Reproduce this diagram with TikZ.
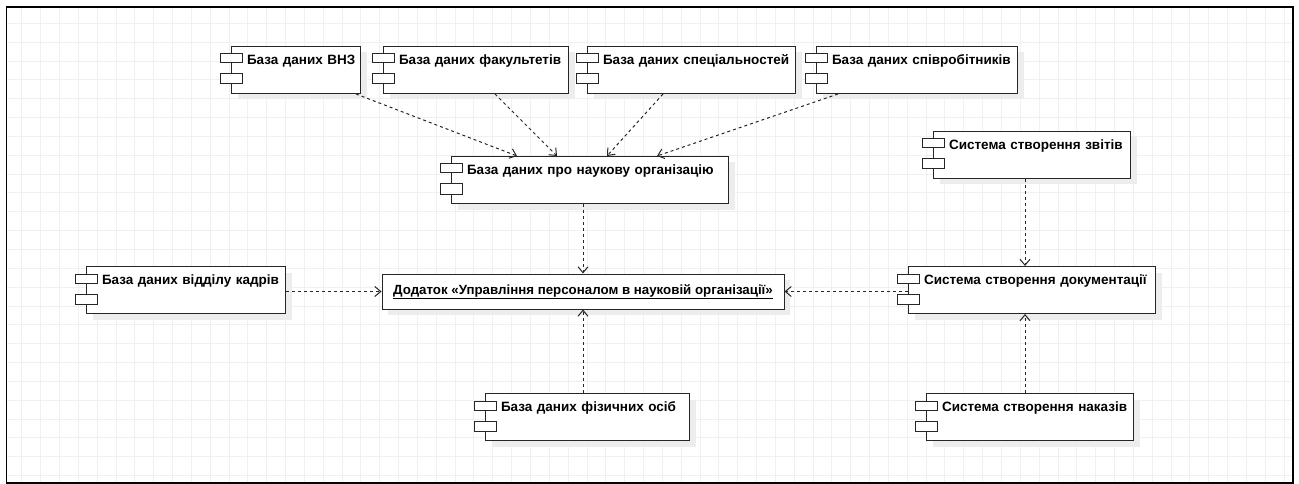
\documentclass[tikz,border=0pt]{standalone}
\usepackage{fontspec}
\setmainfont{Liberation Sans}
\usetikzlibrary{arrows.meta,shadows}

\begin{document}
\begin{tikzpicture}[x=1pt, y=1pt,
    comp/.style={draw=black!85, line width=1pt, fill=white, anchor=north west, minimum height=47, text width=#1, inner xsep=0, inner ysep=5, text height=13, text depth=24, align=left, execute at begin node={\hspace*{15.5pt}}, font=\fontsize{13.5}{15}\selectfont\bfseries, drop shadow={shadow xshift=6pt, shadow yshift=-6pt, fill=black!7, opacity=1}},
    app/.style={draw=black!85, line width=1pt, fill=white, minimum width=402, minimum height=35, inner sep=0, font=\fontsize{13.3}{15}\selectfont\bfseries, drop shadow={shadow xshift=6pt, shadow yshift=-6pt, fill=black!7, opacity=1}},
    icon/.style={draw=black!85, line width=1pt, fill=white},
    dep/.style={draw=black!85, line width=1pt, dash pattern=on 3pt off 3pt, -{Straight Barb[length=6pt, width=10pt]}},
    gridline/.style={draw=black!6, line width=0.8pt}]
    \useasboundingbox (0,0) rectangle (1299,-484);

    % background grid and frame
    \foreach \x in {21.7,40.54,...,1290} \draw[gridline] (\x,-7) -- (\x,-483);
    \foreach \y in {23.3,42.14,...,480} \draw[gridline] (7,-\y) -- (1293,-\y);
    \draw[line width=1.6pt] (6.5,-7) rectangle (1293,-483);

    \node[comp=129] at (231,-46) (vnz) {База даних ВНЗ};
    \node[comp=185] at (383,-46) (fak) {База даних факультетів};
    \node[comp=208] at (587,-46) (spec) {База даних спеціальностей};
    \node[comp=201] at (816,-46) (spivr) {База даних співробітників};
    \node[comp=277] at (451,-156) (nauk) {База даних про наукову організацію};
    \node[comp=197] at (933,-131) (zvit) {Система створення звітів};
    \node[comp=199] at (86,-266) (kadr) {База даних відділу кадрів};
    \node[comp=247] at (908,-266) (dokum) {Система створення документації};
    \node[comp=204] at (485,-393) (fiz) {База даних фізичних осіб};
    \node[comp=207] at (926,-393) (nakaz) {Система створення наказів};
    \node[app] at (583,-291.5) (app) {\underline{Додаток «Управління персоналом в науковій організації»}};

    % component icons
    \foreach \n in {vnz,fak,spec,spivr,nauk,zvit,kadr,dokum,fiz,nakaz} {
        \draw[icon] ([xshift=-11pt, yshift=-8pt]\n.north west) rectangle ++(22,-9);
        \draw[icon] ([xshift=-11pt, yshift=-28pt]\n.north west) rectangle ++(22,-10);
    }

    \draw[dep] ([xshift=-5pt]vnz.south east) -- ([xshift=66pt]nauk.north west);
    \draw[dep] ([xshift=112pt]fak.south west) -- ([xshift=106pt]nauk.north west);
    \draw[dep] ([xshift=76pt]spec.south west) -- ([xshift=156pt]nauk.north west);
    \draw[dep] ([xshift=22pt]spivr.south west) -- ([xshift=206pt]nauk.north west);
    \draw[dep] ([xshift=132pt]nauk.south west) -- (app.north);
    \draw[dep] (kadr.east |- app.west) -- (app.west);
    \draw[dep] (dokum.west |- app.east) -- (app.east);
    \draw[dep] ([xshift=98pt]fiz.north west) -- (app.south);
    \draw[dep] ([xshift=92pt]zvit.south west) -- ([xshift=117pt]dokum.north west);
    \draw[dep] ([xshift=99pt]nakaz.north west) -- ([xshift=117pt]dokum.south west);
\end{tikzpicture}
\end{document}
